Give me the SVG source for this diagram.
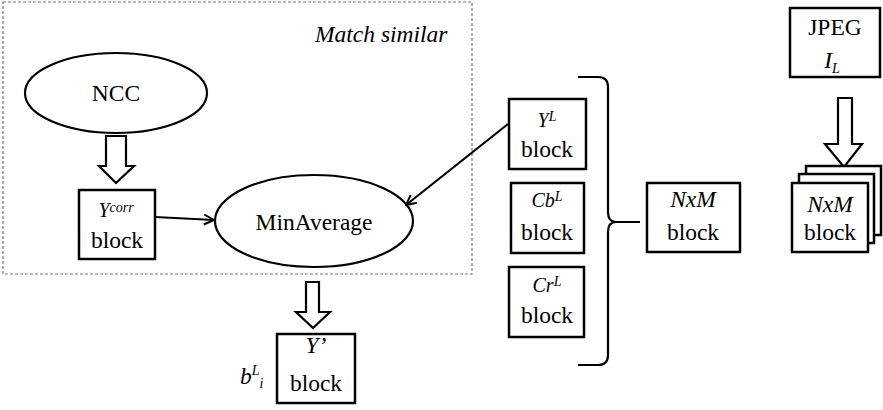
<svg xmlns="http://www.w3.org/2000/svg" width="883" height="410" viewBox="0 0 883 410" font-family="'Times New Roman', 'Liberation Serif', 'DejaVu Serif', serif">
<style>
text{font-family:"Times New Roman","Liberation Serif","DejaVu Serif",serif;font-size:23.5px;fill:#000}
.it{font-style:italic}
.box{fill:#fff;stroke:#000;stroke-width:2.5}
.ell{fill:#fff;stroke:#000;stroke-width:2.2}
.harrow{fill:#fff;stroke:#000;stroke-width:2.2;stroke-linejoin:miter}
.conn{fill:none;stroke:#000;stroke-width:2.2}
.sup{font-size:14px}
</style>
<defs>
<marker id="open" viewBox="0 0 12 12" refX="11" refY="6" markerWidth="12" markerHeight="12" markerUnits="userSpaceOnUse" orient="auto">
<polyline points="1,1 11,6 1,11" fill="none" stroke="#000" stroke-width="2"/>
</marker>
</defs>
<rect id="match-similar" x="3" y="2" width="469" height="272" fill="none" stroke="#777" stroke-width="1.2" stroke-dasharray="3,2"/>
<text class="it" x="315" y="42" font-size="23">Match similar</text>

<g id="ncc">
<ellipse class="ell" cx="116" cy="93" rx="91" ry="40"/>
<text x="116" y="101" text-anchor="middle">NCC</text>
</g>
<g id="arrow-ncc">
<polygon class="harrow" points="106,136 126,136 126,166 134,166 116,183 99,166 106,166"/>
</g>
<g id="ycorr">
<rect class="box" x="79" y="190" width="76" height="69"/>
<text x="116" y="217" text-anchor="middle"><tspan class="it" font-size="20">Y</tspan><tspan class="it sup" dy="-5">corr</tspan></text>
<text x="117" y="248" text-anchor="middle">block</text>
</g>
<g id="minaverage">
<ellipse class="ell" cx="314" cy="221" rx="99" ry="46"/>
<text x="314" y="230" text-anchor="middle">MinAverage</text>
</g>
<g id="arrow-y">
<polygon class="harrow" points="306,282 319,282 319,312 330,312 313,328 296,312 306,312"/>
</g>
<g id="yprime">
<rect class="box" x="277" y="334" width="78" height="69"/>
<text class="it" x="316" y="353" text-anchor="middle" font-size="21">Y’</text>
<text x="316" y="391" text-anchor="middle">block</text>
</g>
<g id="bli">
<text class="it" x="240" y="384">b<tspan class="sup" dy="-9">L</tspan><tspan class="sup" dy="13">i</tspan></text>
</g>

<g id="yl">
<rect class="box" x="509" y="99" width="77" height="70"/>
<text x="547" y="127" text-anchor="middle"><tspan class="it" font-size="20">Y</tspan><tspan class="it sup" dy="-6">L</tspan></text>
<text x="547" y="157" text-anchor="middle">block</text>
</g>
<g id="cbl">
<rect class="box" x="511" y="183" width="73" height="70"/>
<text x="547" y="207" text-anchor="middle"><tspan class="it" font-size="20">Cb</tspan><tspan class="it sup" dy="-6">L</tspan></text>
<text x="547" y="240" text-anchor="middle">block</text>
</g>
<g id="crl">
<rect class="box" x="509" y="267" width="75" height="70"/>
<text x="547" y="292" text-anchor="middle"><tspan class="it" font-size="20">Cr</tspan><tspan class="it sup" dy="-6">L</tspan></text>
<text x="547" y="323" text-anchor="middle">block</text>
</g>
<g id="nxm">
<rect class="box" x="647" y="183" width="93" height="69"/>
<text class="it" x="693" y="207" text-anchor="middle">NxM</text>
<text x="693" y="240" text-anchor="middle">block</text>
</g>

<g id="jpeg">
<rect class="box" x="790" y="8" width="90" height="69"/>
<text x="835" y="35" text-anchor="middle">JPEG</text>
<text class="it" x="832" y="68" text-anchor="middle">I<tspan class="sup" dy="5">L</tspan></text>
</g>
<g id="arrow-jpeg">
<polygon class="harrow" points="838,98 852,98 852,144 862,144 844,167 825,144 838,144"/>
</g>
<g id="nxm-stack">
<rect class="box" x="806" y="166" width="75" height="69"/>
<rect class="box" x="799" y="174" width="75" height="69"/>
<rect class="box" x="792" y="183" width="76" height="69"/>
<text class="it" x="830" y="212" text-anchor="middle">NxM</text>
<text x="830" y="240" text-anchor="middle">block</text>
</g>

<g id="connectors">
<line class="conn" x1="155" y1="217" x2="214" y2="220" marker-end="url(#open)"/>
<line class="conn" x1="508" y1="124" x2="406" y2="205" marker-end="url(#open)"/>
<path class="conn" stroke-width="2.5" d="M578,77 H598 Q608,77 608,87 V212 Q608,222 616,222 H640 M616,222 Q608,222 608,232 V355 Q608,365 598,365 H578"/>
</g>
</svg>
